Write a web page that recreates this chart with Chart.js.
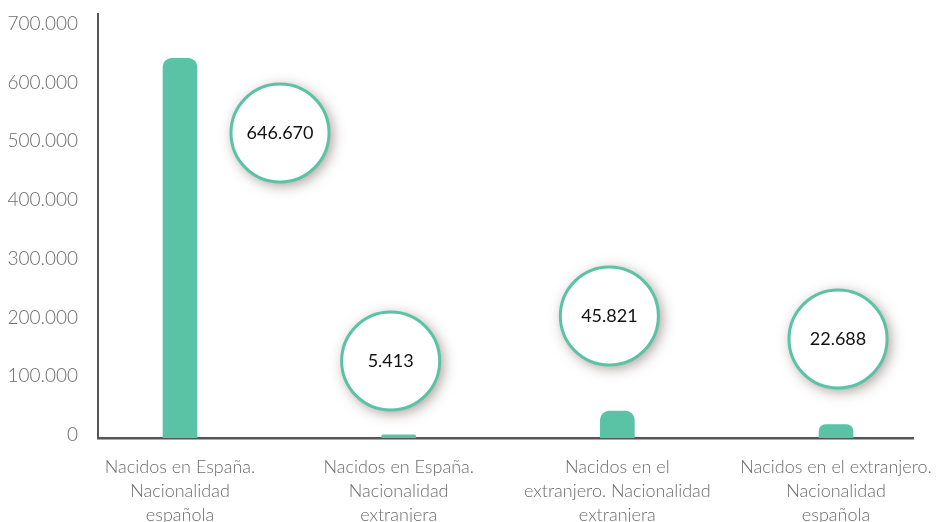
<!DOCTYPE html>
<html>
<head>
<meta charset="utf-8">
<script src="https://cdn.jsdelivr.net/npm/chart.js@4"></script>
<style>
  html, body { margin: 0; padding: 0; background: #ffffff; }
  #wrap { width: 936px; height: 522px; }
</style>
</head>
<body>
<div id="wrap"><canvas id="Chart1"></canvas></div>
<script>
const categorias = [
    ["Nacidos en España.", "Nacionalidad", "española"],
    ["Nacidos en España.", "Nacionalidad", "extranjera"],
    ["Nacidos en el", "extranjero. Nacionalidad", "extranjera"],
    ["Nacidos en el extranjero.", "Nacionalidad", "española"]
]
const valores = [646670, 5413, 45821, 22688]
const ticks_y = [0, 100000, 200000, 300000, 400000, 500000, 600000, 700000]

const verde = "#5BC3A5"
const gris = "#6b6b6b"

function fmt (n) {
    return n.toString().replace(/\B(?=(\d{3})+(?!\d))/g, ".")
}

// burbujas con el valor (posicion relativa a la barra)
const burbujas = {
    id: "burbujas",
    afterDatasetsDraw (chart) {
        const ctx = chart.ctx
        const meta = chart.getDatasetMeta(0)
        const base = chart.chartArea.bottom
        const dx = [100, -8, -8, 2]
        const alto = [305, 77, 122, 99]
        meta.data.forEach((bar, i) => {
            const cx = bar.x + dx[i]
            const cy = base - alto[i]
            ctx.save()
            ctx.shadowColor = "rgba(90, 60, 60, 0.55)"
            ctx.shadowBlur = 14
            ctx.shadowOffsetX = 3
            ctx.shadowOffsetY = 3
            ctx.beginPath()
            ctx.arc(cx, cy, 49, 0, Math.PI * 2)
            ctx.fillStyle = "#ffffff"
            ctx.fill()
            ctx.restore()
            ctx.save()
            ctx.beginPath()
            ctx.arc(cx, cy, 49, 0, Math.PI * 2)
            ctx.lineWidth = 3
            ctx.strokeStyle = verde
            ctx.stroke()
            ctx.fillStyle = "#111111"
            ctx.font = "18px Lato"
            ctx.textAlign = "center"
            ctx.textBaseline = "middle"
            ctx.fillText(fmt(valores[i]), cx, cy)
            ctx.restore()
        })
    }
}

const ex1 = document.getElementById("Chart1")

new Chart(ex1, {
    type: "bar",
    data: {
        datasets: [
            {
                label: "Población",
                data: valores.map((v, i) => ({x: i, y: v})),
                backgroundColor: verde,
                barThickness: 34,
                borderRadius: {topLeft: 9, topRight: 9, bottomLeft: 0, bottomRight: 0},
                borderSkipped: "bottom"
            }
        ]
    },
    options: {
        responsive: true,
        maintainAspectRatio: false,
        animation: false,
        layout: {padding: {top: 14, right: 23, left: 0, bottom: 0}},
        plugins: {
            legend: {display: false},
            tooltip: {enabled: false}
        },
        scales: {
            x: {
                type: "linear",
                offset: false,
                min: -0.375,
                max: 3.352,
                grid: {display: false, drawTicks: false},
                border: {display: true, color: "#555555", width: 2.5},
                afterDataLimits: (axis) => { axis.min = -0.375; axis.max = 3.352 },
                afterBuildTicks: (axis) => { axis.ticks = categorias.map((c, i) => ({value: i})) },
                afterFit: (s) => { s.height = 84; s.paddingLeft = 0; s.paddingRight = 0 },
                ticks: {
                    autoSkip: false,
                    maxRotation: 0,
                    padding: 17,
                    color: gris,
                    font: {family: "Lato", weight: "300", size: 18, lineHeight: 1.33},
                    callback: (v) => categorias[v]
                }
            },
            y: {
                min: 0,
                max: 722000,
                grid: {display: false, drawTicks: false},
                border: {display: true, color: "#555555", width: 2},
                afterBuildTicks: (axis) => { axis.ticks = ticks_y.map((v) => ({value: v})) },
                afterFit: (s) => { s.width = 98; s.paddingTop = 0; s.paddingBottom = 0 },
                ticks: {
                    padding: 20,
                    labelOffset: -3,
                    color: gris,
                    font: {family: "Lato", weight: "300", size: 19},
                    callback: (v) => fmt(v)
                }
            }
        }
    },
    plugins: [burbujas]
})
</script>
</body>
</html>
